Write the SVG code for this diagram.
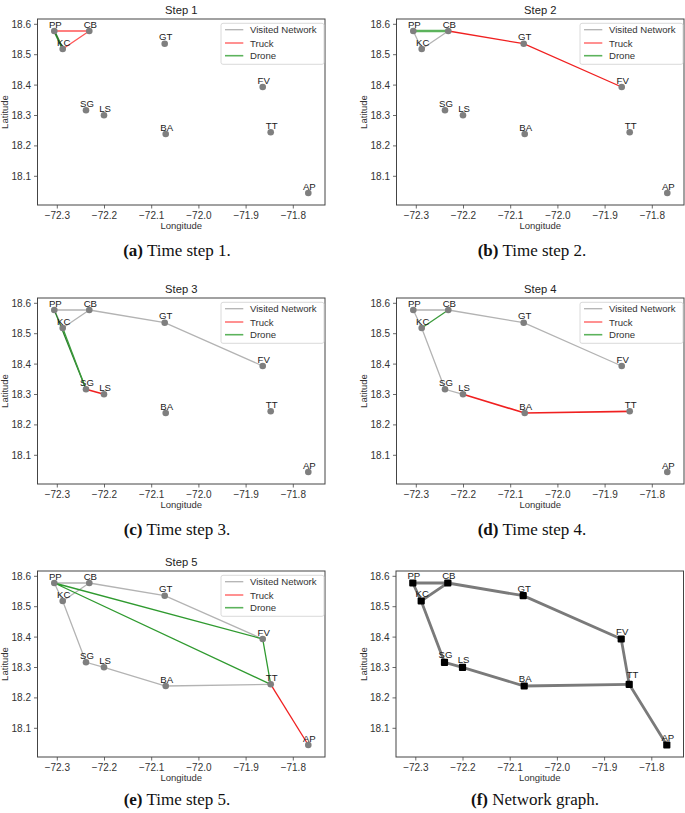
<svg xmlns="http://www.w3.org/2000/svg" xmlns:xlink="http://www.w3.org/1999/xlink" width="685" height="813" viewBox="0 0 685 813">
<style>
.frame{fill:none;stroke:#444;stroke-width:1}
.tick{stroke:#444;stroke-width:0.8}
.tl{font-family:"Liberation Sans",Arial,sans-serif;font-size:10px;fill:#333}
.ax{font-family:"Liberation Sans",Arial,sans-serif;font-size:9.5px;fill:#333}
.title{font-family:"Liberation Sans",Arial,sans-serif;font-size:11.2px;fill:#222;text-anchor:middle}
.lab{font-family:"Liberation Sans",Arial,sans-serif;font-size:9.6px;fill:#1a1a1a;text-anchor:middle}
.lg{font-family:"Liberation Sans",Arial,sans-serif;font-size:9.6px;fill:#333}
.node{fill:#7f7f7f}
.bnode{fill:#000}
.v{stroke:#b3b3b3;stroke-width:1.3;fill:none}
.t{stroke:#f02020;stroke-width:1.3;fill:none}
.d{stroke:#2f9a2f;stroke-width:1.3;fill:none}
.net{stroke:#7a7a7a;stroke-width:2.8;fill:none}
.cap{font-family:"Liberation Serif","Times New Roman",serif;font-size:17px;fill:#111;text-anchor:middle}
</style>
<defs>
<g id="axes">
<rect class="frame" x="37.5" y="19" width="287.5" height="186"/>
<g class="tick">
<line x1="57.3" y1="205" x2="57.3" y2="208.5"/><line x1="104.5" y1="205" x2="104.5" y2="208.5"/><line x1="151.7" y1="205" x2="151.7" y2="208.5"/><line x1="198.9" y1="205" x2="198.9" y2="208.5"/><line x1="246.1" y1="205" x2="246.1" y2="208.5"/><line x1="293.3" y1="205" x2="293.3" y2="208.5"/>
<line x1="34" y1="24.3" x2="37.5" y2="24.3"/><line x1="34" y1="54.7" x2="37.5" y2="54.7"/><line x1="34" y1="85.1" x2="37.5" y2="85.1"/><line x1="34" y1="115.5" x2="37.5" y2="115.5"/><line x1="34" y1="145.9" x2="37.5" y2="145.9"/><line x1="34" y1="176.3" x2="37.5" y2="176.3"/>
</g>
<g class="tl" text-anchor="middle">
<text x="57.3" y="218.5">−72.3</text><text x="104.5" y="218.5">−72.2</text><text x="151.7" y="218.5">−72.1</text><text x="198.9" y="218.5">−72.0</text><text x="246.1" y="218.5">−71.9</text><text x="293.3" y="218.5">−71.8</text>
</g>
<g class="tl" text-anchor="end">
<text x="31" y="27.8">18.6</text><text x="31" y="58.2">18.5</text><text x="31" y="88.6">18.4</text><text x="31" y="119">18.3</text><text x="31" y="149.4">18.2</text><text x="31" y="179.8">18.1</text>
</g>
<text class="ax" x="181.3" y="228.5" text-anchor="middle">Longitude</text>
<text class="ax" transform="translate(8.3,112) rotate(-90)" text-anchor="middle">Latitude</text>
</g>
<g id="legend">
<rect x="221" y="23.3" width="103" height="41" rx="2" fill="#fff" stroke="#d0d0d0" stroke-width="0.8"/>
<line x1="225" y1="29.7" x2="243.3" y2="29.7" stroke="#b3b3b3" stroke-width="1.3"/>
<line x1="225" y1="43" x2="243.3" y2="43" stroke="#f55" stroke-width="1.3"/>
<line x1="225" y1="55.7" x2="243.3" y2="55.7" stroke="#5cb35c" stroke-width="1.6"/>
<text class="lg" x="250" y="33.2">Visited Network</text>
<text class="lg" x="250" y="46.5">Truck</text>
<text class="lg" x="250" y="59.2">Drone</text>
</g>
</defs>

<!-- Panel a -->
<g id="panel-a">
<use xlink:href="#axes"/>
<text class="title" x="181.3" y="14">Step 1</text>
<g id="a-connectors">
<line class="t" x1="54.3" y1="31" x2="89.3" y2="31" style="stroke:#f55"/>
<line class="t" x1="89.3" y1="31" x2="62.7" y2="49" style="stroke:#f55"/>
<line class="d" x1="54.3" y1="31" x2="62.7" y2="49" style="stroke:#2a7d2a;stroke-width:2"/>
</g>
<g id="a-PP"><circle class="node" cx="54.3" cy="31" r="3.3"/><text class="lab" x="55.3" y="27.5">PP</text></g>
<g id="a-CB"><circle class="node" cx="89.3" cy="31" r="3.3"/><text class="lab" x="90.3" y="27.5">CB</text></g>
<g id="a-KC"><circle class="node" cx="62.7" cy="49" r="3.3"/><text class="lab" x="63.7" y="45.5">KC</text></g>
<g id="a-GT"><circle class="node" cx="164.7" cy="43.7" r="3.3"/><text class="lab" x="165.7" y="40.2">GT</text></g>
<g id="a-FV"><circle class="node" cx="262.7" cy="87" r="3.3"/><text class="lab" x="263.7" y="83.5">FV</text></g>
<g id="a-SG"><circle class="node" cx="86" cy="110.3" r="3.3"/><text class="lab" x="87" y="106.8">SG</text></g>
<g id="a-LS"><circle class="node" cx="104" cy="115.3" r="3.3"/><text class="lab" x="105" y="111.8">LS</text></g>
<g id="a-BA"><circle class="node" cx="165.7" cy="134" r="3.3"/><text class="lab" x="166.7" y="130.5">BA</text></g>
<g id="a-TT"><circle class="node" cx="270.7" cy="132.3" r="3.3"/><text class="lab" x="271.7" y="128.8">TT</text></g>
<g id="a-AP"><circle class="node" cx="308.3" cy="193" r="3.3"/><text class="lab" x="309.3" y="189.5">AP</text></g>
<use xlink:href="#legend"/>
</g>

<!-- Panel b -->
<g id="panel-b" transform="translate(359,0)">
<use xlink:href="#axes"/>
<text class="title" x="181.3" y="14">Step 2</text>
<g id="b-connectors">
<line class="v" x1="54.3" y1="31" x2="62.7" y2="49"/>
<line class="v" x1="62.7" y1="49" x2="89.3" y2="31"/>
<line class="d" x1="54.3" y1="31" x2="89.3" y2="31" style="stroke:#5cb35c;stroke-width:2.5"/>
<polyline class="t" points="89.3,31 164.7,43.7 262.7,87"/>
</g>
<g id="b-PP"><circle class="node" cx="54.3" cy="31" r="3.3"/><text class="lab" x="55.3" y="27.5">PP</text></g>
<g id="b-CB"><circle class="node" cx="89.3" cy="31" r="3.3"/><text class="lab" x="90.3" y="27.5">CB</text></g>
<g id="b-KC"><circle class="node" cx="62.7" cy="49" r="3.3"/><text class="lab" x="63.7" y="45.5">KC</text></g>
<g id="b-GT"><circle class="node" cx="164.7" cy="43.7" r="3.3"/><text class="lab" x="165.7" y="40.2">GT</text></g>
<g id="b-FV"><circle class="node" cx="262.7" cy="87" r="3.3"/><text class="lab" x="263.7" y="83.5">FV</text></g>
<g id="b-SG"><circle class="node" cx="86" cy="110.3" r="3.3"/><text class="lab" x="87" y="106.8">SG</text></g>
<g id="b-LS"><circle class="node" cx="104" cy="115.3" r="3.3"/><text class="lab" x="105" y="111.8">LS</text></g>
<g id="b-BA"><circle class="node" cx="165.7" cy="134" r="3.3"/><text class="lab" x="166.7" y="130.5">BA</text></g>
<g id="b-TT"><circle class="node" cx="270.7" cy="132.3" r="3.3"/><text class="lab" x="271.7" y="128.8">TT</text></g>
<g id="b-AP"><circle class="node" cx="308.3" cy="193" r="3.3"/><text class="lab" x="309.3" y="189.5">AP</text></g>
<use xlink:href="#legend"/>
</g>

<!-- Panel c -->
<g id="panel-c" transform="translate(0,279)">
<use xlink:href="#axes"/>
<text class="title" x="181.3" y="14">Step 3</text>
<g id="c-connectors">
<line class="v" x1="54.3" y1="31" x2="89.3" y2="31"/>
<line class="v" x1="62.7" y1="49" x2="89.3" y2="31"/>
<line class="v" x1="54.3" y1="31" x2="62.7" y2="49"/>
<polyline class="v" points="89.3,31 164.7,43.7 262.7,87"/>
<line class="d" x1="54.3" y1="31" x2="86" y2="110.3" style="stroke:#2a7d2a"/>
<line class="d" x1="62.7" y1="49" x2="86" y2="110.3" style="stroke:#3a9a3a"/>
<line class="t" x1="86" y1="110.3" x2="104" y2="115.3" style="stroke-width:1.6"/>
</g>
<g id="c-PP"><circle class="node" cx="54.3" cy="31" r="3.3"/><text class="lab" x="55.3" y="27.5">PP</text></g>
<g id="c-CB"><circle class="node" cx="89.3" cy="31" r="3.3"/><text class="lab" x="90.3" y="27.5">CB</text></g>
<g id="c-KC"><circle class="node" cx="62.7" cy="49" r="3.3"/><text class="lab" x="63.7" y="45.5">KC</text></g>
<g id="c-GT"><circle class="node" cx="164.7" cy="43.7" r="3.3"/><text class="lab" x="165.7" y="40.2">GT</text></g>
<g id="c-FV"><circle class="node" cx="262.7" cy="87" r="3.3"/><text class="lab" x="263.7" y="83.5">FV</text></g>
<g id="c-SG"><circle class="node" cx="86" cy="110.3" r="3.3"/><text class="lab" x="87" y="106.8">SG</text></g>
<g id="c-LS"><circle class="node" cx="104" cy="115.3" r="3.3"/><text class="lab" x="105" y="111.8">LS</text></g>
<g id="c-BA"><circle class="node" cx="165.7" cy="134" r="3.3"/><text class="lab" x="166.7" y="130.5">BA</text></g>
<g id="c-TT"><circle class="node" cx="270.7" cy="132.3" r="3.3"/><text class="lab" x="271.7" y="128.8">TT</text></g>
<g id="c-AP"><circle class="node" cx="308.3" cy="193" r="3.3"/><text class="lab" x="309.3" y="189.5">AP</text></g>
<use xlink:href="#legend"/>
</g>

<!-- Panel d -->
<g id="panel-d" transform="translate(359,279)">
<use xlink:href="#axes"/>
<text class="title" x="181.3" y="14">Step 4</text>
<g id="d-connectors">
<polyline class="v" points="262.7,87 164.7,43.7 89.3,31 54.3,31 62.7,49 86,110.3 104,115.3"/>
<line class="d" x1="62.7" y1="49" x2="89.3" y2="31" style="stroke:#3a9a3a"/>
<polyline class="t" points="104,115.3 165.7,134 270.7,132.3" style="stroke-width:1.7"/>
</g>
<g id="d-PP"><circle class="node" cx="54.3" cy="31" r="3.3"/><text class="lab" x="55.3" y="27.5">PP</text></g>
<g id="d-CB"><circle class="node" cx="89.3" cy="31" r="3.3"/><text class="lab" x="90.3" y="27.5">CB</text></g>
<g id="d-KC"><circle class="node" cx="62.7" cy="49" r="3.3"/><text class="lab" x="63.7" y="45.5">KC</text></g>
<g id="d-GT"><circle class="node" cx="164.7" cy="43.7" r="3.3"/><text class="lab" x="165.7" y="40.2">GT</text></g>
<g id="d-FV"><circle class="node" cx="262.7" cy="87" r="3.3"/><text class="lab" x="263.7" y="83.5">FV</text></g>
<g id="d-SG"><circle class="node" cx="86" cy="110.3" r="3.3"/><text class="lab" x="87" y="106.8">SG</text></g>
<g id="d-LS"><circle class="node" cx="104" cy="115.3" r="3.3"/><text class="lab" x="105" y="111.8">LS</text></g>
<g id="d-BA"><circle class="node" cx="165.7" cy="134" r="3.3"/><text class="lab" x="166.7" y="130.5">BA</text></g>
<g id="d-TT"><circle class="node" cx="270.7" cy="132.3" r="3.3"/><text class="lab" x="271.7" y="128.8">TT</text></g>
<g id="d-AP"><circle class="node" cx="308.3" cy="193" r="3.3"/><text class="lab" x="309.3" y="189.5">AP</text></g>
<use xlink:href="#legend"/>
</g>

<!-- Panel e -->
<g id="panel-e" transform="translate(0,552)">
<use xlink:href="#axes"/>
<text class="title" x="181.3" y="14">Step 5</text>
<g id="e-connectors">
<polyline class="v" points="262.7,87 164.7,43.7 89.3,31 54.3,31 62.7,49 86,110.3 104,115.3 165.7,134 270.7,132.3"/>
<line class="v" x1="62.7" y1="49" x2="89.3" y2="31"/>
<polyline class="d" points="54.3,31 262.7,87 270.7,132.3 54.3,31"/>
<line class="t" x1="270.7" y1="132.3" x2="308.3" y2="193"/>
</g>
<g id="e-PP"><circle class="node" cx="54.3" cy="31" r="3.3"/><text class="lab" x="55.3" y="27.5">PP</text></g>
<g id="e-CB"><circle class="node" cx="89.3" cy="31" r="3.3"/><text class="lab" x="90.3" y="27.5">CB</text></g>
<g id="e-KC"><circle class="node" cx="62.7" cy="49" r="3.3"/><text class="lab" x="63.7" y="45.5">KC</text></g>
<g id="e-GT"><circle class="node" cx="164.7" cy="43.7" r="3.3"/><text class="lab" x="165.7" y="40.2">GT</text></g>
<g id="e-FV"><circle class="node" cx="262.7" cy="87" r="3.3"/><text class="lab" x="263.7" y="83.5">FV</text></g>
<g id="e-SG"><circle class="node" cx="86" cy="110.3" r="3.3"/><text class="lab" x="87" y="106.8">SG</text></g>
<g id="e-LS"><circle class="node" cx="104" cy="115.3" r="3.3"/><text class="lab" x="105" y="111.8">LS</text></g>
<g id="e-BA"><circle class="node" cx="165.7" cy="134" r="3.3"/><text class="lab" x="166.7" y="130.5">BA</text></g>
<g id="e-TT"><circle class="node" cx="270.7" cy="132.3" r="3.3"/><text class="lab" x="271.7" y="128.8">TT</text></g>
<g id="e-AP"><circle class="node" cx="308.3" cy="193" r="3.3"/><text class="lab" x="309.3" y="189.5">AP</text></g>
<use xlink:href="#legend"/>
</g>

<!-- Panel f -->
<g id="panel-f" transform="translate(358.5,552)">
<use xlink:href="#axes"/>
<g id="f-connectors">
<polyline class="net" points="54.3,31 89.3,31 62.7,49 54.3,31"/>
<polyline class="net" points="89.3,31 164.7,43.7 262.7,87 270.7,132.3 308.3,193"/>
<polyline class="net" points="62.7,49 86,110.3 104,115.3 165.7,134 270.7,132.3"/>
</g>
<g id="f-PP"><rect class="bnode" x="50.7" y="27.4" width="7.2" height="7.2" rx="1"/><text class="lab" x="55.3" y="27">PP</text></g>
<g id="f-CB"><rect class="bnode" x="85.7" y="27.4" width="7.2" height="7.2" rx="1"/><text class="lab" x="90.3" y="27">CB</text></g>
<g id="f-KC"><rect class="bnode" x="59.1" y="45.4" width="7.2" height="7.2" rx="1"/><text class="lab" x="63.7" y="45">KC</text></g>
<g id="f-GT"><rect class="bnode" x="161.1" y="40.1" width="7.2" height="7.2" rx="1"/><text class="lab" x="165.7" y="39.7">GT</text></g>
<g id="f-FV"><rect class="bnode" x="259.1" y="83.4" width="7.2" height="7.2" rx="1"/><text class="lab" x="263.7" y="83">FV</text></g>
<g id="f-SG"><rect class="bnode" x="82.4" y="106.7" width="7.2" height="7.2" rx="1"/><text class="lab" x="87" y="106.3">SG</text></g>
<g id="f-LS"><rect class="bnode" x="100.4" y="111.7" width="7.2" height="7.2" rx="1"/><text class="lab" x="105" y="111.3">LS</text></g>
<g id="f-BA"><rect class="bnode" x="162.1" y="130.4" width="7.2" height="7.2" rx="1"/><text class="lab" x="166.7" y="130">BA</text></g>
<g id="f-TT"><rect class="bnode" x="267.1" y="128.7" width="7.2" height="7.2" rx="1"/><text class="lab" x="274" y="126">TT</text></g>
<g id="f-AP"><rect class="bnode" x="304.7" y="189.4" width="7.2" height="7.2" rx="1"/><text class="lab" x="309.3" y="189">AP</text></g>
</g>

<!-- Captions -->
<g id="captions">
<text class="cap" x="177" y="255.5"><tspan font-weight="bold">(a)</tspan> Time step 1.</text>
<text class="cap" x="532" y="255.5"><tspan font-weight="bold">(b)</tspan> Time step 2.</text>
<text class="cap" x="177" y="534.5"><tspan font-weight="bold">(c)</tspan> Time step 3.</text>
<text class="cap" x="532" y="534.5"><tspan font-weight="bold">(d)</tspan> Time step 4.</text>
<text class="cap" x="177" y="804.5"><tspan font-weight="bold">(e)</tspan> Time step 5.</text>
<text class="cap" x="535" y="804.5"><tspan font-weight="bold">(f)</tspan> Network graph.</text>
</g>
</svg>
